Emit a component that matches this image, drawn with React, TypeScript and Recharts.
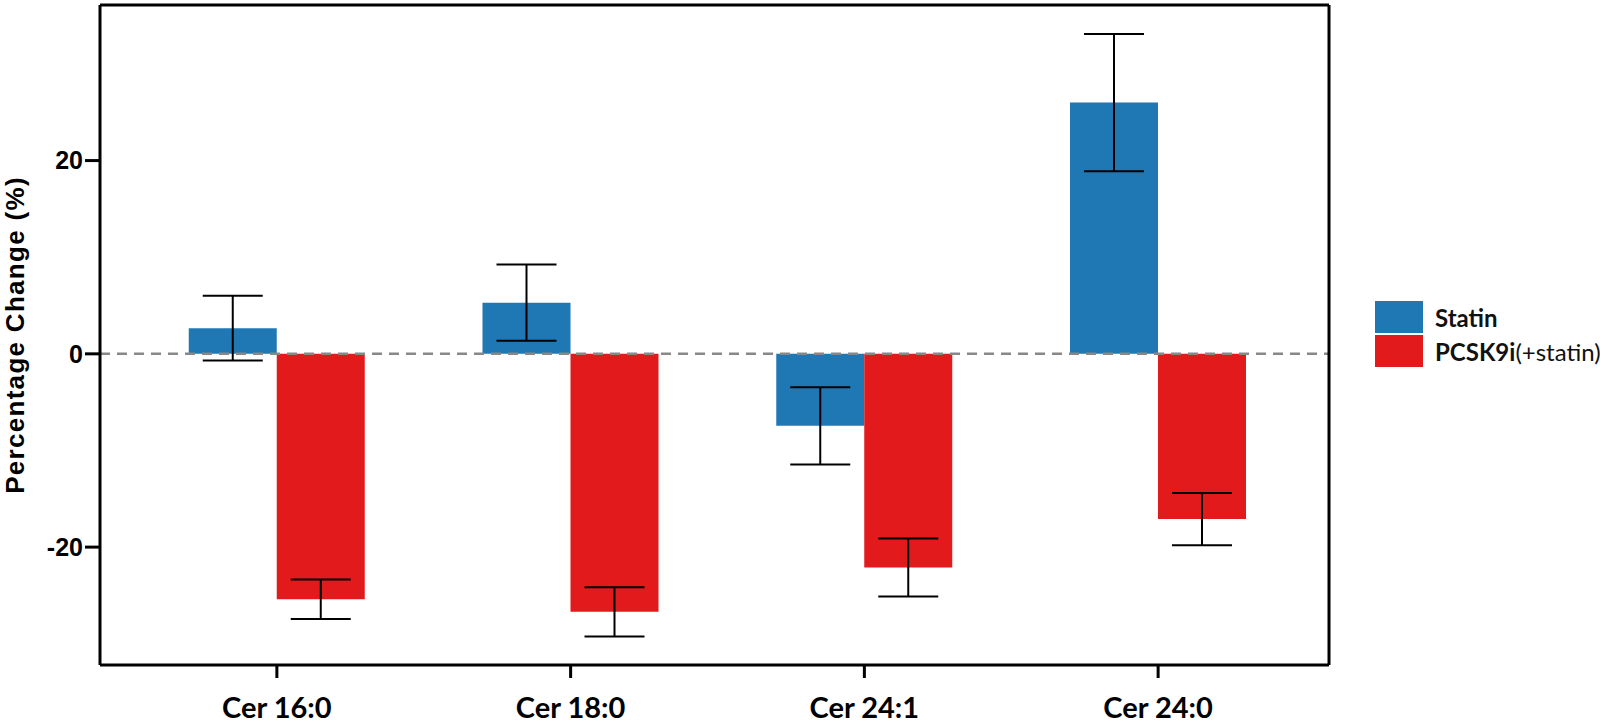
import { BarChart, Bar, XAxis, YAxis, ErrorBar, ReferenceLine } from 'recharts';

const categories = ['Cer 16:0', 'Cer 18:0', 'Cer 24:1', 'Cer 24:0'];
const statin = [2.65, 5.3, -7.45, 26.0];
const statinErr = [3.35, 3.95, 4.0, 7.1];
const pcsk9 = [-25.4, -26.7, -22.1, -17.1];
const pcsk9Err = [2.05, 2.55, 3.0, 2.7];
const yTicks = [-20, 0, 20];
const yDomain = [-32.2, 36.1];

const data = categories.map((name, i) => ({
  name,
  statin: statin[i],
  statinErr: statinErr[i],
  pcsk9: pcsk9[i],
  pcsk9Err: pcsk9Err[i],
}));

const BLUE = '#1f77b4';
const RED = '#e31a1c';
const LABEL_FONT = 'Lato, "Open Sans", sans-serif';
const AXIS_FONT = '"Liberation Sans", Arial, sans-serif';

function ChartLegend() {
  const row = { display: 'flex', alignItems: 'center', height: 34 };
  const box = (c: string) => ({ width: 48, height: 32, background: c, marginRight: 12 });
  return (
    <div style={{ position: 'absolute', left: 1375, top: 300, fontFamily: LABEL_FONT, fontSize: 24, color: '#111' }}>
      <div style={row}>
        <div style={box(BLUE)} />
        <span style={{ fontWeight: 700 }}>Statin</span>
      </div>
      <div style={row}>
        <div style={box(RED)} />
        <span>
          <b>PCSK9i</b>(+statin)
        </span>
      </div>
    </div>
  );
}

export default function App() {
  return (
    <div style={{ position: 'absolute', left: 0, top: 0, width: 1600, height: 727, background: '#fff' }}>
      <BarChart
        width={1600}
        height={727}
        data={data}
        margin={{ top: 4, right: 270, bottom: 0, left: 0 }}
        barCategoryGap="20%"
        barGap={0}
      >
        <XAxis
          dataKey="name"
          padding={{ left: 30, right: 24 }}
          height={62}
          axisLine={{ stroke: '#000', strokeWidth: 3 }}
          tickLine={{ stroke: '#000', strokeWidth: 3 }}
          tickSize={13}
          tickMargin={19}
          tick={{ fill: '#000', fontSize: 29, fontWeight: 700, fontFamily: LABEL_FONT }}
        />
        <XAxis xAxisId="top" dataKey="name" orientation="top" height={1} tick={false} tickLine={false}
          axisLine={{ stroke: '#000', strokeWidth: 3 }} />
        <YAxis
          width={100}
          domain={yDomain}
          ticks={yTicks}
          allowDataOverflow
          axisLine={{ stroke: '#000', strokeWidth: 3 }}
          tickLine={{ stroke: '#000', strokeWidth: 3 }}
          tickSize={15}
          tickMargin={2}
          tick={{ fill: '#000', fontSize: 25, fontWeight: 700, fontFamily: AXIS_FONT }}
          label={{
            value: 'Percentage Change (%)',
            angle: -90,
            position: 'insideLeft',
            dx: 10,
            style: { textAnchor: 'middle', fill: '#000', fontSize: 26, fontWeight: 700, letterSpacing: 1.3, fontFamily: AXIS_FONT },
          }}
        />
        <YAxis yAxisId="right" orientation="right" width={1} domain={yDomain} tick={false} tickLine={false}
          axisLine={{ stroke: '#000', strokeWidth: 3 }} />
        <ReferenceLine y={0} stroke="#888" strokeWidth={2.5} strokeDasharray="10 7" />
        <Bar dataKey="statin" name="Statin" fill={BLUE} isAnimationActive={false}>
          <ErrorBar dataKey="statinErr" width={30} stroke="#000" strokeWidth={2} direction="y" />
        </Bar>
        <Bar dataKey="pcsk9" name="PCSK9i(+statin)" fill={RED} isAnimationActive={false}>
          <ErrorBar dataKey="pcsk9Err" width={30} stroke="#000" strokeWidth={2} direction="y" />
        </Bar>
      </BarChart>
      <ChartLegend />
    </div>
  );
}
